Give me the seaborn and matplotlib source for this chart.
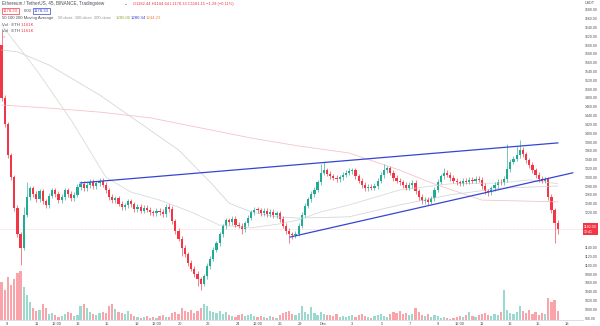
import numpy as np
import pandas as pd
import matplotlib
matplotlib.use("Agg")
import matplotlib.pyplot as plt
import seaborn as sns

# ---------------- data ----------------
first_open = 1600
closes = [
    1480, 1420, 1350, 1300, 1230, 1170, 1140,
    1215, 1255, 1275, 1262, 1250, 1268, 1245, 1236, 1258, 1270, 1262, 1248, 1255, 1270, 1262, 1252, 1260, 1278,
    1285, 1275, 1282, 1290, 1280, 1286, 1292, 1283, 1270, 1255, 1248, 1252, 1240, 1232, 1236, 1245, 1238, 1228,
    1232, 1224, 1230, 1226, 1220,
    1218, 1224, 1221, 1216, 1232, 1228,
    1200, 1178, 1160, 1140, 1125, 1105, 1092, 1080, 1068, 1058,
    1075, 1098, 1115, 1135, 1150, 1170, 1188, 1202,
    1198, 1205, 1192, 1190, 1182, 1195, 1208, 1220, 1226, 1225, 1218, 1224, 1216, 1222, 1214, 1218, 1205, 1190,
    1178, 1170, 1168, 1172,
    1190, 1215, 1235, 1250, 1262, 1272, 1288, 1310, 1316, 1308, 1302, 1299, 1296, 1300, 1306, 1310, 1314, 1316,
    1302, 1292, 1282, 1275, 1278, 1276, 1280, 1292, 1305, 1316, 1320,
    1310, 1298, 1292, 1288, 1282, 1276, 1282, 1287,
    1268, 1255, 1246, 1248, 1244, 1252, 1272, 1290, 1302, 1310, 1306,
    1298, 1292, 1288, 1285, 1292, 1290, 1294, 1292, 1296, 1294,
    1280, 1268, 1266, 1275, 1282, 1290, 1288, 1296,
    1318, 1335, 1342, 1350, 1362,
    1352, 1338, 1328, 1316, 1305, 1296, 1292, 1295,
    1255, 1225, 1196, 1182,
]
volume = [
    38, 30, 42, 35, 40, 46, 48,
    33, 25, 18,
    12, 9, 10,
    16, 12,
    6, 7, 5,
    3,
    4, 6, 8, 7, 4, 5,
    14, 16, 12, 8,
    6, 5, 7,
    8, 7,
    14, 16, 11,
    8, 7, 6, 9, 6,
    4, 3, 2, 3, 4, 2,
    3, 2, 4, 5, 3,
    3,
    7, 8, 6, 12, 9, 8, 10, 7, 9, 12,
    16, 14, 9,
    8, 7, 9, 6, 8, 5,
    4, 3, 5, 6, 4,
    5, 6, 4, 3, 4,
    3, 2, 4, 3, 2, 5,
    7, 8, 9, 6, 5, 7,
    14, 8, 6, 13, 7, 5, 8, 6, 5,
    5, 4, 6, 3, 4,
    3, 4, 5, 3,
    5, 6, 4, 3,
    2, 4, 5, 6, 4, 3,
    6, 8, 7, 9, 6, 7,
    5, 6, 12, 8,
    5, 4, 6, 3, 5, 4,
    2, 3, 2, 1, 2, 3,
    4, 3, 5, 8, 4, 3, 5,
    6, 7, 5,
    4, 6, 5, 8, 30,
    10, 7, 6, 8, 14,
    9, 7, 10, 6, 8,
    5, 7, 6,
    22, 18, 20, 9,
]
wick_pad = 6
notable_highs = {0: 1635, 7: 1232, 8: 1290, 101: 1330, 102: 1334, 121: 1330,
                 140: 1320, 160: 1375, 163: 1372, 164: 1385}
notable_lows = {6: 1100, 57: 1120, 62: 1052, 63: 1043, 76: 1172, 91: 1150,
                92: 1160, 135: 1236, 154: 1258, 175: 1150, 176: 1170}

# moving averages (candle index, value)
ma50_idx = [0, 11, 22, 33, 41, 50, 60, 69, 79, 88, 94, 101, 110, 126, 142, 158, 167, 176]
ma50_val = [1646, 1544, 1430, 1300, 1266, 1248, 1221, 1191, 1185, 1194, 1203, 1221, 1237, 1271, 1285, 1287, 1294, 1285]
ma100_idx = [0, 5, 15, 31, 47, 56, 66, 72, 79, 87, 94, 110, 126, 142, 158, 176]
ma100_val = [1589, 1585, 1555, 1487, 1407, 1362, 1289, 1241, 1221, 1210, 1207, 1210, 1237, 1260, 1275, 1280]
ma200_idx = [0, 15, 31, 47, 63, 79, 94, 110, 126, 136, 152, 164, 176]
ma200_val = [1464, 1457, 1448, 1435, 1412, 1389, 1371, 1355, 1316, 1287, 1248, 1246, 1244]

# trend lines (candle index, price)
upper_idx = [24.8, 176.1]
upper_val = [1287, 1378]
lower_idx = [91.3, 180.8]
lower_val = [1164, 1310]

price_ticks = list(range(980, 1681, 20))
time_tick_idx = [1.7, 11.2, 17.5, 24.2, 33.4, 42.8, 49.2, 56.5, 65.3, 74.8, 81.1, 88.1,
                 94.4, 101.7, 110.9, 120.4, 129.2, 138.1, 145.1, 152.0, 160.9, 169.7, 178.9]
time_tick_lab = ["9", "11", "12:00", "13", "15", "18", "12:00", "20", "22", "24", "12:00", "26",
                 "29", "Dec", "3", "5", "7", "9", "12:00", "11", "13", "15", "18"]

# ---------------- build frame ----------------
n = len(closes)
opens = [first_open] + closes[:-1]
df = pd.DataFrame({"i": np.arange(n), "open": opens, "close": closes, "vol": volume})
df["up"] = df["close"] >= df["open"]
df["high"] = [notable_highs.get(k, max(o, c) + wick_pad) for k, o, c in zip(df.i, df.open, df.close)]
df["low"] = [notable_lows.get(k, min(o, c) - wick_pad) for k, o, c in zip(df.i, df.open, df.close)]

GREEN = "#22ab94"
RED = "#f23645"
BLUE = "#3346d3"
TXT = "#4a4e59"

sns.set_theme(style="white")
plt.rcParams["font.family"] = ["Liberation Sans", "DejaVu Sans"]

fig = plt.figure(figsize=(6.0, 3.26), dpi=100)
ax = fig.add_axes([0.0, 6 / 326, 583 / 600, 320 / 326])
ax2 = ax.twinx()
ax.set_zorder(ax2.get_zorder() + 1)
ax.patch.set_visible(False)

# volume
vcols = [GREEN if u else RED for u in df.up]
ax2.bar(df.i, df.vol, width=0.7, color=vcols, alpha=0.45, linewidth=0)
ax2.set_ylim(0, 316)
ax2.set_yticks([])
ax2.set_ylabel("")

# moving averages
sns.lineplot(x=ma200_idx, y=ma200_val, ax=ax, color="#f6c4c8", lw=0.6)
sns.lineplot(x=ma100_idx, y=ma100_val, ax=ax, color="#d3d6e0", lw=0.6)
sns.lineplot(x=ma50_idx, y=ma50_val, ax=ax, color="#d5ddd7", lw=0.6)

# last price line
last = closes[-1]
ax.axhline(last, color=RED, lw=0.4, ls=(0, (1, 1.5)), alpha=0.45)

# candles
ccols = [GREEN if u else RED for u in df.up]
ax.vlines(df.i, df.low, df.high, colors=ccols, lw=0.45)
body = (df.close - df.open).where((df.close - df.open).abs() > 1.2, 1.2)
ax.bar(df.i, body, bottom=df.open, width=0.7, color=ccols, linewidth=0)

# trend lines
sns.lineplot(x=upper_idx, y=upper_val, ax=ax, color=BLUE, lw=0.9)
sns.lineplot(x=lower_idx, y=lower_val, ax=ax, color=BLUE, lw=0.9)

ax.set_xlim(-0.506, 184.0)
ax.set_ylim(975.5, 1702.7)
ax.set_xlabel("")
ax.set_ylabel("")

# price scale: labels hidden where the last-price badge sits
shown = [v for v in price_ticks if abs(v - last) > 22]
ax.yaxis.tick_right()
ax.set_yticks(shown)
ax.set_yticklabels([f"{v:.2f}" for v in shown])
ax.tick_params(axis="y", labelsize=2.5, colors=TXT, length=0, pad=1.5)
ax.set_xticks(time_tick_idx)
ax.set_xticklabels(time_tick_lab)
ax.tick_params(axis="x", labelsize=2.9, colors=TXT, length=0, pad=1.5)
for s in ["top", "left", "right"]:
    ax.spines[s].set_visible(False)
    ax2.spines[s].set_visible(False)
ax.spines["bottom"].set_color("#d6d9e0")
ax.spines["bottom"].set_linewidth(0.6)
ax2.spines["bottom"].set_visible(False)
ax.grid(False)
ax2.grid(False)

# last price badge
ax.annotate(f"{last:.2f}\n12:41", xy=(1.0, last), xycoords=("axes fraction", "data"),
            xytext=(0.9, 0), textcoords="offset points", fontsize=2.6, color="white",
            va="center", ha="left", linespacing=1.25, zorder=10,
            bbox=dict(boxstyle="square,pad=0.4", fc=RED, ec=RED, lw=0))
fig.text(590 / 600, 1 - 3 / 326, "USDT", fontsize=2.7, color=TXT, ha="center", va="center")

# header
def ftxt(x, y, s, **kw):
    kw.setdefault("fontsize", 3.1)
    kw.setdefault("color", TXT)
    fig.text(x / 600, 1 - y / 326, s, ha="left", va="center", **kw)

ftxt(2, 4, "Ethereum / TetherUS, 45, BINANCE, Tradingview", fontsize=3.3)
ftxt(125, 4, "\u25CF", color=GREEN, fontsize=2.4)
ftxt(133, 4, "O1182.44 H1184.64 L1178.33 C1181.15 \u22121.29 (\u22120.11%)", color=RED, fontsize=2.9)
ftxt(3, 11, "1178.33", color=RED,
     bbox=dict(boxstyle="square,pad=0.3", fc="white", ec=RED, lw=0.5))
ftxt(24, 11, "0.00")
ftxt(34, 11, "1178.33", color=BLUE,
     bbox=dict(boxstyle="square,pad=0.3", fc="white", ec=BLUE, lw=0.5))
ftxt(2, 18, "50 100 200 Moving Average")
ftxt(58, 18, "50 close  100 close  200 close", color="#8a8e99", fontsize=2.9)
ftxt(116, 18, "1285.00", color="#8fae3a")
ftxt(131, 18, "1280.34", color=BLUE)
ftxt(146, 18, "1244.23", color="#e58a3a")
ftxt(2, 24.5, "Vol \u00B7 ETH")
ftxt(21, 24.5, "1.161K", color=RED)
ftxt(2, 31, "Vol \u00B7 ETH")
ftxt(21, 31, "1.161K", color=RED)
ftxt(3, 37, "\u02C4", color="#8a8e99")

fig.savefig("out.png", dpi=100)
